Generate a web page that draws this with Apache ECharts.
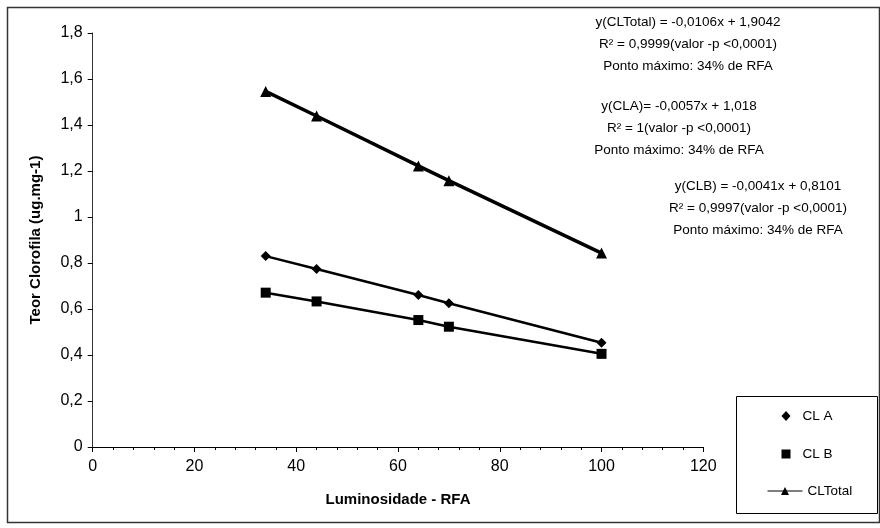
<!DOCTYPE html>
<html>
<head>
<meta charset="utf-8">
<script src="https://cdn.jsdelivr.net/npm/echarts@6/dist/echarts.min.js"></script>
<style>html,body{margin:0;padding:0;background:#fff;}#c{width:880px;height:528px;}</style>
</head>
<body>
<div id="c"></div>
<script>
const xValues = [34, 44, 64, 70, 100];
const clA = [0.83, 0.774, 0.661, 0.625, 0.453];
const clB = [0.671, 0.633, 0.552, 0.523, 0.405];
const clTotal = [1.546, 1.439, 1.222, 1.158, 0.843];
const seriesNames = ['CL A', 'CL B', 'CLTotal'];
const xTicks = [0, 20, 40, 60, 80, 100, 120];
const yTicks = [0, 0.2, 0.4, 0.6, 0.8, 1, 1.2, 1.4, 1.6, 1.8];
const annotations = [
  ['y(CLTotal) = -0,0106x + 1,9042', 'R² = 0,9999(valor -p <0,0001)', 'Ponto máximo: 34% de RFA'],
  ['y(CLA)= -0,0057x + 1,018', 'R² = 1(valor -p <0,0001)', 'Ponto máximo: 34% de RFA'],
  ['y(CLB) = -0,0041x + 0,8101', 'R² = 0,9997(valor -p <0,0001)', 'Ponto máximo: 34% de RFA']
];

const FONT = '"Liberation Sans", Arial, sans-serif';
const pairs = arr => xValues.map((x, i) => [x, arr[i]]);

const chart = echarts.init(document.getElementById('c'), null, {renderer: 'canvas'});

const annoPos = [[688, 22], [679, 106], [758, 186]];
const graphics = [
  {type: 'rect', left: 5, top: 5, shape: {width: 872, height: 515}, style: {fill: 'none', stroke: '#333', lineWidth: 1.5}, silent: true, z: -1},
  {type: 'rect', left: 736, top: 396, shape: {width: 141, height: 117}, style: {fill: '#fff', stroke: '#000', lineWidth: 1}, silent: true, z: 1}
];
annotations.forEach((block, b) => {
  block.forEach((line, i) => {
    graphics.push({
      type: 'text', x: annoPos[b][0], y: annoPos[b][1] + i * 22,
      style: {text: line, fill: '#000', font: '13.5px ' + FONT, textAlign: 'center', textVerticalAlign: 'middle'},
      silent: true
    });
  });
});

const legendText = {fontFamily: FONT, fontSize: 13.5, color: '#000'};
const legends = [
  {data: [{name: seriesNames[0], icon: 'diamond'}], left: 781.5, top: 409, itemWidth: 9, itemHeight: 10,
    textStyle: Object.assign({padding: [0, 0, 0, 7]}, legendText)},
  {data: [{name: seriesNames[1], icon: 'rect'}], left: 781.5, top: 447, itemWidth: 9, itemHeight: 9,
    textStyle: Object.assign({padding: [0, 0, 0, 7]}, legendText)},
  {data: [seriesNames[2]], left: 767, top: 484, itemWidth: 35, itemHeight: 10,
    lineStyle: {width: 1}, textStyle: legendText}
].map(l => Object.assign({orient: 'vertical', padding: 0, z: 5}, l));

chart.setOption({
  backgroundColor: '#fff',
  animation: false,
  grid: {left: 92.7, right: 176.7, top: 33, bottom: 81, containLabel: false},
  xAxis: {
    type: 'value', min: xTicks[0], max: xTicks[xTicks.length - 1], interval: 20,
    name: 'Luminosidade - RFA', nameLocation: 'middle', nameGap: 45,
    nameTextStyle: {fontFamily: FONT, fontWeight: 'bold', fontSize: 15, color: '#000'},
    axisLine: {show: true, lineStyle: {color: '#000', width: 1}},
    axisTick: {show: true, inside: false, length: 5, lineStyle: {color: '#000'}},
    minorTick: {show: true, splitNumber: 5, length: 3, lineStyle: {color: '#000'}},
    axisLabel: {fontFamily: FONT, fontSize: 16, color: '#000', margin: 12},
    splitLine: {show: false}
  },
  yAxis: {
    type: 'value', min: yTicks[0], max: yTicks[yTicks.length - 1], interval: 0.2,
    name: 'Teor Clorofila (ug.mg-1)', nameLocation: 'middle', nameGap: 49,
    nameTextStyle: {fontFamily: FONT, fontWeight: 'bold', fontSize: 15, color: '#000', padding: [0, 0, 0, 0]},
    axisLine: {show: true, lineStyle: {color: '#333', width: 1}},
    axisTick: {show: true, inside: false, length: 5, lineStyle: {color: '#000'}},
    axisLabel: {fontFamily: FONT, fontSize: 16, color: '#000', margin: 10,
      formatter: v => String(Math.round(v * 10) / 10).replace('.', ',')},
    splitLine: {show: false}
  },
  legend: legends,
  series: [
    {name: seriesNames[0], type: 'line', data: pairs(clA), symbol: 'diamond', symbolSize: 10,
      lineStyle: {color: '#000', width: 2.5}, itemStyle: {color: '#000'}, z: 3},
    {name: seriesNames[1], type: 'line', data: pairs(clB), symbol: 'rect', symbolSize: 10,
      lineStyle: {color: '#000', width: 2.5}, itemStyle: {color: '#000'}, z: 3},
    {name: seriesNames[2], type: 'line', data: pairs(clTotal), symbol: 'triangle', symbolSize: 11,
      lineStyle: {color: '#000', width: 3.5}, itemStyle: {color: '#000'}, z: 3}
  ],
  graphic: graphics
});
</script>
</body>
</html>
